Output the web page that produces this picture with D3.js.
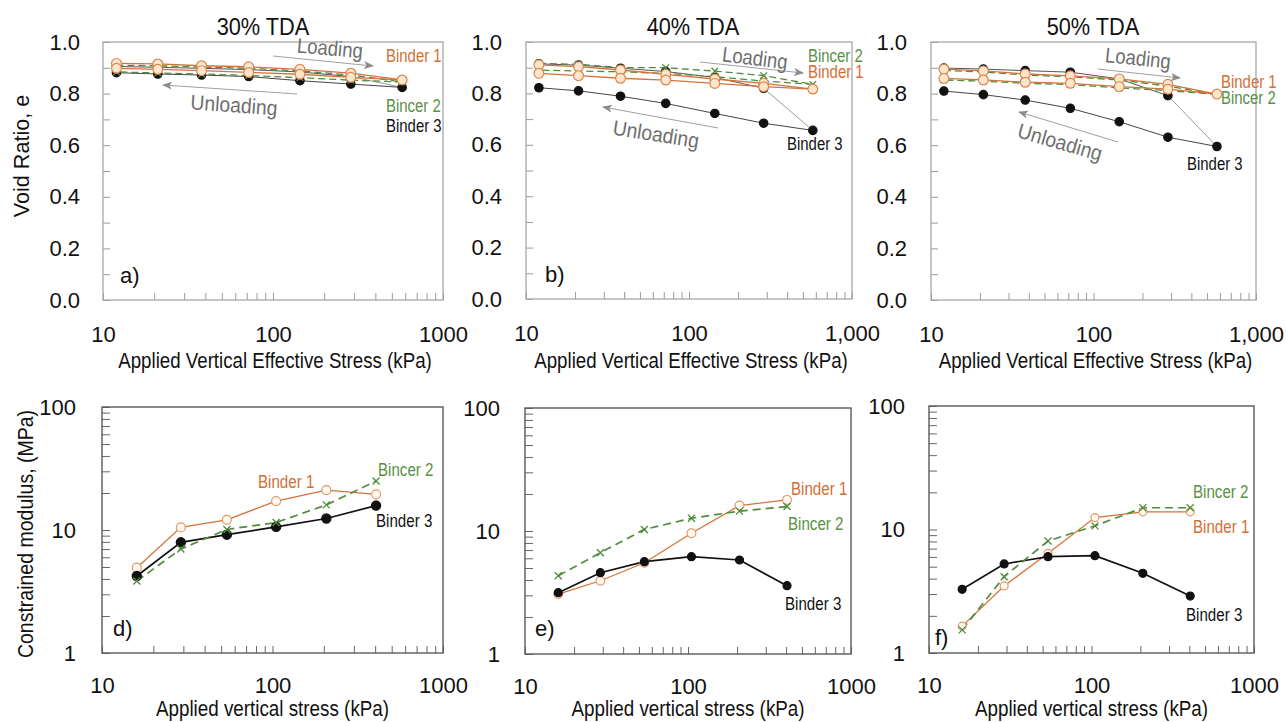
<!DOCTYPE html>
<html><head><meta charset="utf-8">
<script src="https://cdn.jsdelivr.net/npm/d3@7"></script>
<style>body{margin:0;background:#fff}svg{display:block;font-family:"Liberation Sans",Arial,sans-serif}</style>
</head><body><svg id="c" width="1286" height="722"></svg>
<script>
// ---------- DATA ----------
const stressLoad   = [12, 21, 38, 72, 144, 287, 575];     // kPa, loading path
const stressUnload = [287, 144, 72, 38, 21, 12];          // kPa, unloading path (from 575)
// Panel a (30% TDA) void ratio
const a_b1_load   = [0.917, 0.915, 0.908, 0.904, 0.894, 0.879, 0.853];
const a_b1_unload = [0.863, 0.875, 0.882, 0.889, 0.894, 0.898];
const a_b2_load   = [0.910, 0.908, 0.903, 0.898, 0.888, 0.872, 0.845];
const a_b2_unload = [0.852, 0.862, 0.870, 0.876, 0.880, 0.884];
const a_b3_load   = [0.905, 0.902, 0.898, 0.893, 0.884, 0.866, 0.824];
const a_b3_unload = [0.837, 0.850, 0.866, 0.872, 0.876, 0.881];
// Panel b (40% TDA)
const b_b1_load   = [0.911, 0.904, 0.891, 0.874, 0.856, 0.839, 0.817];
const b_b1_unload = [0.826, 0.839, 0.852, 0.859, 0.869, 0.878];
const b_b2_load   = [0.917, 0.913, 0.900, 0.900, 0.887, 0.869, 0.835];
const b_b2_unload = [0.848, 0.865, 0.878, 0.884, 0.887, 0.891];
const b_b3_load   = [0.915, 0.910, 0.898, 0.885, 0.862, 0.820, 0.656];
const b_b3_unload = [0.684, 0.722, 0.761, 0.789, 0.810, 0.822];
// Panel c (50% TDA)
const c_b1_load   = [0.895, 0.888, 0.876, 0.869, 0.857, 0.836, 0.798];
const c_b1_unload = [0.817, 0.827, 0.840, 0.844, 0.853, 0.859];
const c_b2_load   = [0.890, 0.884, 0.872, 0.865, 0.853, 0.829, 0.797];
const c_b2_unload = [0.812, 0.822, 0.835, 0.840, 0.848, 0.853];
const c_b3_load   = [0.899, 0.895, 0.889, 0.883, 0.857, 0.792, 0.595];
const c_b3_unload = [0.631, 0.691, 0.743, 0.775, 0.796, 0.810];
// Constrained modulus (MPa)
const modStress = [16, 29, 54, 105, 207, 405];
const d_b1 = [4.94, 10.5, 12.1, 17.2, 21.1, 19.5];
const d_b2 = [3.85, 7.0, 10.1, 11.5, 16.0, 25.0];
const d_b3 = [4.23, 7.94, 9.16, 10.6, 12.4, 15.8];
const e_b1 = [3.07, 3.94, 5.52, 9.58, 16.1, 17.9];
const e_b2 = [4.33, 6.66, 10.3, 12.7, 14.5, 15.8];
const e_b3 = [3.15, 4.58, 5.63, 6.18, 5.81, 3.59];
const f_b1 = [1.65, 3.49, 6.41, 12.5, 13.9, 13.9];
const f_b2 = [1.54, 4.15, 8.07, 10.7, 15.0, 15.0];
const f_b3 = [3.28, 5.26, 6.02, 6.14, 4.42, 2.89];
// Text
const titles = ["30% TDA", "40% TDA", "50% TDA"];
const seriesNames = ["Binder 1", "Bincer 2", "Binder 3"];
const yTicksVoid = [0, 0.2, 0.4, 0.6, 0.8, 1.0];
const yTicksMod = [1, 10, 100];
const xMajor = [10, 100, 1000];

// ---------- STYLE ----------
const ORANGE = "#d4733a", ORANGE_T = "#d46f34", GREEN = "#4f8c3c", GREEN_T = "#5a9146", BLACK = "#111";
const svg = d3.select("#c");
const defs = svg.append("defs");
defs.append("marker").attr("id", "arr").attr("markerUnits", "userSpaceOnUse")
  .attr("viewBox", "0 -5 10 10").attr("refX", 9).attr("refY", 0)
  .attr("markerWidth", 10).attr("markerHeight", 10).attr("orient", "auto")
  .append("path").attr("d", "M0,-4L10,0L0,4L2.5,0Z").attr("fill", "#8c8c8c");

function txt(g, x, y, s, o) {
  const t = g.append("text").attr("x", x).attr("y", y).text(s)
    .style("font-size", o.size + "px").attr("fill", o.color || "#111")
    .attr("text-anchor", o.anchor || "start");
  if (o.transform) t.attr("transform", o.transform);
  if (o.dy) t.attr("dy", o.dy);
  if (o.sx && o.sx !== 1) {
    const L = t.node().getComputedTextLength();
    t.attr("textLength", L * o.sx).attr("lengthAdjust", "spacingAndGlyphs");
  }
  return t;
}

const xTickVals = [];
[10, 100].forEach(b => { for (let k = 1; k <= 9; k++) xTickVals.push(b * k); });
xTickVals.push(1000);
const yModTickVals = [];
[1, 10].forEach(b => { for (let k = 1; k <= 9; k++) yModTickVals.push(b * k); });
yModTickVals.push(100);

function styleAxis(ag, color) {
  ag.select(".domain").remove();
  ag.selectAll(".tick line").attr("stroke", color).attr("stroke-width", 1);
  ag.selectAll(".tick text").attr("fill", "#111").style("font-size", "22px")
    .style("font-family", '"Liberation Sans",Arial,sans-serif');
}

function xCircle(g, pts, x, y, r, fill, stroke) {
  g.selectAll(null).data(pts).enter().append("circle")
    .attr("cx", d => x(d[0])).attr("cy", d => y(d[1])).attr("r", r)
    .attr("fill", fill).attr("stroke", stroke).attr("stroke-width", 1.2);
}
function xCross(g, pts, x, y, s, color) {
  g.selectAll(null).data(pts).enter().append("path")
    .attr("d", d => { const cx = x(d[0]), cy = y(d[1]);
      return `M${cx - s},${cy - s}L${cx + s},${cy + s}M${cx - s},${cy + s}L${cx + s},${cy - s}`; })
    .attr("stroke", color).attr("stroke-width", 1.3).attr("fill", "none");
}

// ---------- TOP PANELS ----------
const topPanels = [
  { box: [103, 42, 443, 300], title: titles[0], titleX: 263, xl: ["10", "100", "1000"], pad: 23, letter: "a)",
    b1: [a_b1_load, a_b1_unload], b2: [a_b2_load, a_b2_unload], b3: [a_b3_load, a_b3_unload],
    lab: [[283, 20], [283, 70], [283, 90]],
    loadT: [227, 6, 5], loadA: [170, 14, 270, 24], unT: [131, 63, 4], unA: [194, 52, 60, 43], letterP: [17, 241] },
  { box: [526, 42, 852, 299], title: titles[1], titleX: 693, xl: ["10", "100", "1,000"], pad: 24, letter: "b)",
    b1: [b_b1_load, b_b1_unload], b2: [b_b2_load, b_b2_unload], b3: [b_b3_load, b_b3_unload],
    lab: [[282, 36], [282, 20], [261, 108]],
    loadT: [229, 16, 7], loadA: [174, 20, 277, 31], unT: [130, 92, 9], unA: [192, 86, 77, 65], letterP: [19, 240] },
  { box: [931, 42, 1256, 300], title: titles[2], titleX: 1093, xl: ["10", "100", "1,000"], pad: 24, letter: null,
    b1: [c_b1_load, c_b1_unload], b2: [c_b2_load, c_b2_unload], b3: [c_b3_load, c_b3_unload],
    lab: [[290, 46], [290, 62], [256, 128]],
    loadT: [207, 16, 6], loadA: [167, 27, 249, 36], unT: [129, 100, 16], unA: [187, 100, 88, 70], letterP: null }
];

topPanels.forEach((p, pi) => {
  const [x0, y0, x1, y1] = p.box;
  const x = d3.scaleLog().domain([10, 1000]).range([x0, x1]);
  const y = d3.scaleLinear().domain([0, 1]).range([y1, y0]);
  const g = svg.append("g");
  // title
  txt(g, p.titleX, 35, p.title, { size: 23, anchor: "middle", sx: 0.945 });
  // axes
  const xa = g.append("g").attr("transform", `translate(0,${y1})`)
    .call(d3.axisBottom(x).tickValues(xTickVals).tickSize(-7).tickPadding(26)
      .tickFormat(d => { const i = xMajor.indexOf(d); return i >= 0 ? p.xl[i] : ""; }));
  styleAxis(xa, "#9a9a9a");
  const ya = g.append("g").attr("transform", `translate(${x0},0)`)
    .call(d3.axisLeft(y).tickValues(d3.range(0, 11).map(i => i / 10)).tickSize(-7).tickPadding(p.pad)
      .tickFormat(d => yTicksVoid.some(v => Math.abs(v - d) < 1e-9) ? d3.format(".1f")(d) : ""));
  styleAxis(ya, "#9a9a9a");
  g.append("rect").attr("x", x0).attr("y", y0).attr("width", x1 - x0).attr("height", y1 - y0)
    .attr("fill", "none").attr("stroke", "#a8a8a8").attr("stroke-width", 1.3);
  // axis titles
  txt(g, (x0 + x1) / 2 + 2, 368, "Applied Vertical Effective Stress (kPa)", { size: 22, anchor: "middle", sx: 0.85 });

  const line = d3.line().x(d => x(d[0])).y(d => y(d[1]));
  const series = arr => {
    const L = stressLoad.map((s, i) => [s, arr[0][i]]);
    const U = [L[L.length - 1]].concat(stressUnload.map((s, i) => [s, arr[1][i]]));
    return [L, U];
  };
  // Binder 3
  const [l3, u3] = series(p.b3);
  g.append("path").attr("d", line(l3.slice(0, 6))).attr("fill", "none").attr("stroke", "#555").attr("stroke-width", 1);
  g.append("path").attr("d", line(l3.slice(5))).attr("fill", "none").attr("stroke", "#9c9c9c").attr("stroke-width", 1);
  g.append("path").attr("d", line(u3)).attr("fill", "none").attr("stroke", "#444").attr("stroke-width", 1);
  xCircle(g, l3.concat(u3.slice(1)), x, y, 4.2, BLACK, BLACK);
  // Binder 2
  const [l2, u2] = series(p.b2);
  [l2, u2].forEach(s => g.append("path").attr("d", line(s)).attr("fill", "none")
    .attr("stroke", GREEN).attr("stroke-width", 1.3).attr("stroke-dasharray", "7,4"));
  xCross(g, l2.concat(u2.slice(1)), x, y, 3.3, GREEN);
  // Binder 1
  const [l1, u1] = series(p.b1);
  [l1, u1].forEach(s => g.append("path").attr("d", line(s)).attr("fill", "none")
    .attr("stroke", ORANGE).attr("stroke-width", 1.3));
  xCircle(g, l1.concat(u1.slice(1)), x, y, 4.9, "#fde6cc", "#d9854f");

  // labels
  const cols = [ORANGE_T, GREEN_T, BLACK];
  p.lab.forEach((q, i) => txt(g, x0 + q[0], y0 + q[1], seriesNames[i], { size: 18, color: cols[i], sx: 0.83 }));
  // loading / unloading
  g.append("line").attr("x1", x0 + p.loadA[0]).attr("y1", y0 + p.loadA[1]).attr("x2", x0 + p.loadA[2]).attr("y2", y0 + p.loadA[3])
    .attr("stroke", "#a0a0a0").attr("stroke-width", 1).attr("marker-end", "url(#arr)");
  g.append("line").attr("x1", x0 + p.unA[0]).attr("y1", y0 + p.unA[1]).attr("x2", x0 + p.unA[2]).attr("y2", y0 + p.unA[3])
    .attr("stroke", "#a0a0a0").attr("stroke-width", 1).attr("marker-end", "url(#arr)");
  txt(g, 0, 0, "Loading", { size: 21, color: "#6e6e6e", anchor: "middle", dy: "0.35em", sx: 0.88,
    transform: `translate(${x0 + p.loadT[0]},${y0 + p.loadT[1]}) rotate(${p.loadT[2]})` });
  txt(g, 0, 0, "Unloading", { size: 21, color: "#6e6e6e", anchor: "middle", dy: "0.35em", sx: 0.92,
    transform: `translate(${x0 + p.unT[0]},${y0 + p.unT[1]}) rotate(${p.unT[2]})` });
  if (p.letter) txt(g, x0 + p.letterP[0], y0 + p.letterP[1], p.letter, { size: 22 });
});
// y title top
txt(svg, 0, 0, "Void Ratio, e", { size: 22, anchor: "middle", sx: 0.98, transform: "translate(29,156) rotate(-90)" });

// ---------- BOTTOM PANELS ----------
const botPanels = [
  { box: [102, 407, 443, 653], pad: 26, letter: "d)", b1: d_b1, b2: d_b2, b3: d_b3, r3: 4.6, r1: 4.5,
    lab: [[156, 81], [276, 69], [274, 120]], letterP: [11, 229] },
  { box: [525, 408, 851, 654], pad: 25, letter: "e)", b1: e_b1, b2: e_b2, b3: e_b3, r3: 4, r1: 4.4,
    lab: [[266, 87], [263, 122], [260, 202]], letterP: [10, 228] },
  { box: [929, 406, 1254, 653], pad: 24, letter: "f)", b1: f_b1, b2: f_b2, b3: f_b3, r3: 4, r1: 4,
    lab: [[264, 127], [264, 92], [257, 215]], letterP: [6, 239] }
];
botPanels.forEach(p => {
  const [x0, y0, x1, y1] = p.box;
  const x = d3.scaleLog().domain([10, 1000]).range([x0, x1]);
  const y = d3.scaleLog().domain([1, 100]).range([y1, y0]);
  const g = svg.append("g");
  const xa = g.append("g").attr("transform", `translate(0,${y1})`)
    .call(d3.axisBottom(x).tickValues(xTickVals).tickSize(-7).tickPadding(24)
      .tickFormat(d => xMajor.includes(d) ? String(d) : ""));
  styleAxis(xa, "#666");
  const ya = g.append("g").attr("transform", `translate(${x0},0)`)
    .call(d3.axisLeft(y).tickValues(yModTickVals).tickSize(-8).tickPadding(p.pad)
      .tickFormat(d => yTicksMod.includes(d) ? String(d) : ""));
  styleAxis(ya, "#666");
  g.append("rect").attr("x", x0).attr("y", y0).attr("width", x1 - x0).attr("height", y1 - y0)
    .attr("fill", "none").attr("stroke", "#5a5a5a").attr("stroke-width", 1.4);
  txt(g, (x0 + x1) / 2 + 0, 716, "Applied vertical stress (kPa)", { size: 22, anchor: "middle", sx: 0.855 });

  const line = d3.line().x(d => x(d[0])).y(d => y(d[1]));
  const P = arr => modStress.map((s, i) => [s, arr[i]]);
  const p1 = P(p.b1), p2 = P(p.b2), p3 = P(p.b3);
  g.append("path").attr("d", line(p1)).attr("fill", "none").attr("stroke", ORANGE).attr("stroke-width", 1.3);
  g.append("path").attr("d", line(p3)).attr("fill", "none").attr("stroke", "#111").attr("stroke-width", 1.7);
  g.append("path").attr("d", line(p2)).attr("fill", "none").attr("stroke", GREEN).attr("stroke-width", 1.7).attr("stroke-dasharray", "8,5");
  xCircle(g, p1, x, y, p.r1, "#fff8f0", "#e09a6a");
  xCircle(g, p3, x, y, p.r3, BLACK, BLACK);
  xCross(g, p2, x, y, 3.5, GREEN);
  const cols = [ORANGE_T, GREEN_T, BLACK];
  p.lab.forEach((q, i) => txt(g, x0 + q[0], y0 + q[1], seriesNames[i], { size: 18, color: cols[i], sx: 0.84 }));
  txt(g, x0 + p.letterP[0], y0 + p.letterP[1], p.letter, { size: 22 });
});
txt(svg, 0, 0, "Constrained modulus, (MPa)", { size: 22, anchor: "middle", sx: 0.886, transform: "translate(33,534) rotate(-90)" });
</script></body></html>
